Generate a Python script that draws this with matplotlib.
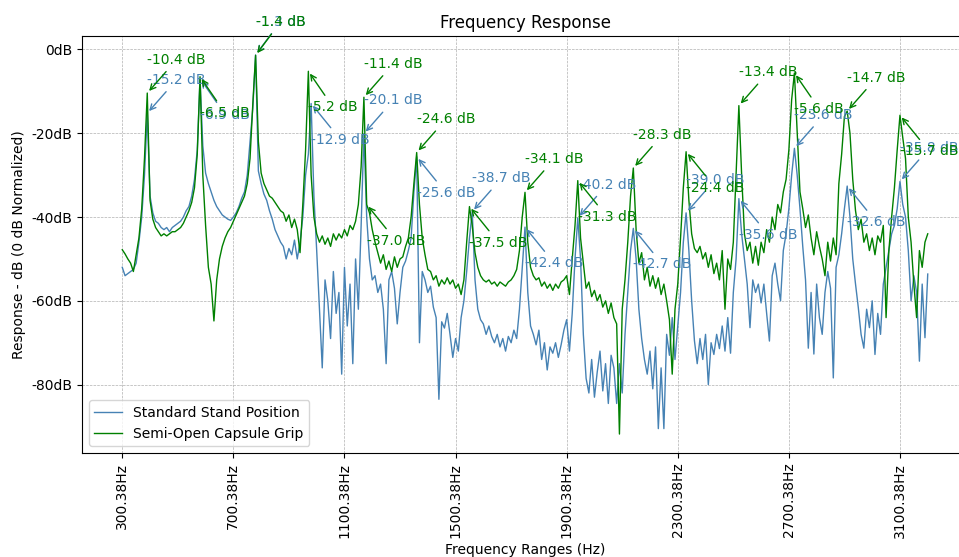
import matplotlib
matplotlib.use('Agg')
import matplotlib.pyplot as plt
from matplotlib.ticker import FuncFormatter
import numpy as np

# frequency grid (Hz) - first bin and bin width
start_hz = 300.38
step_hz = 10.0

# response in dB, one value per bin
standard = [
    -52, -54, -53.5, -53, -52.5, -51, -46, -40, -30, -15.2,
    -35, -39, -41, -41.5, -42.5, -43, -42.5, -43.5, -42.5, -42,
    -41.5, -41, -40, -38.5, -37.5, -35, -31, -24, -6.9,
    -23, -29.5, -32, -34, -36, -37.5, -38.5, -39.5, -40, -40.5, -40.8,
    -40, -39, -37.5, -35.5, -34, -30, -22, -14, -1.3,
    -29, -32, -34.5, -36, -38.5, -40.5, -43, -44.5, -46, -47, -50,
    -47.5, -49, -45.5, -50, -46, -40, -30, -25, -12.9,
    -35, -48, -62, -76, -55, -60, -69, -53, -63, -58, -77.5, -52, -66, -56, -75, -50, -62, -42, -20.1,
    -40, -50, -55, -54, -58, -56, -62, -75, -55, -53, -57, -65.5, -58, -52, -50.5, -48, -45, -34, -25.6,
    -70, -53, -55, -58, -56.5, -61.5, -64, -83.5, -65, -66.5, -63, -68, -73.5, -69, -72, -64, -60, -53, -45, -38.7,
    -55, -62, -64.5, -65.5, -68, -66, -68.5, -70, -68, -71, -69, -72, -68.5, -70, -67, -69, -62, -52, -42.4,
    -58, -66, -68, -70.5, -67, -74, -70, -76.5, -71, -72.5, -70, -73.5, -70.5, -67, -64.5, -72, -63, -50, -40.2,
    -50, -68, -78.5, -82, -74, -83, -77, -72, -81.5, -75, -84.5, -73, -76, -84.5, -75, -82, -68, -58, -48, -42.7,
    -50, -62, -69, -74, -77.5, -72, -81, -71, -90.5, -76, -90.5, -68, -73, -64, -74, -66, -58, -46, -39.0,
    -48, -60, -69.5, -75, -69, -74, -68, -80, -70, -72.8, -68, -71.4, -66, -72, -64, -72.5, -58, -50, -35.6,
    -44, -50, -56, -66.4, -55, -58, -56, -60.5, -56, -63, -69.6, -54, -51, -56, -60, -48, -44, -38, -30, -23.6,
    -30, -38, -47, -55, -71.3, -58, -72.7, -56, -64, -68, -58, -53, -57, -78.4, -52, -49, -44, -38, -32.6,
    -40, -50, -56, -61.6, -68, -71.3, -62, -66.4, -60, -72.8, -63, -68, -56, -52, -48, -44, -42, -38, -31.5, -37,
    -40, -48, -60, -54, -58, -74.4, -56, -68.8, -53.6,
]

semi_open = [
    -47.8, -48.8, -50, -51, -53, -49, -45, -38, -26, -10.4,
    -36, -40.5, -42.5, -43.5, -44.5, -44, -44.5, -44, -43.5, -43.5,
    -43, -42.5, -41.5, -40, -38.5, -36.5, -33, -25, -6.5,
    -30, -42, -52, -56, -64.8, -55, -50, -47, -45, -43.5, -42.5, -41, -39.5, -38, -36.5, -35, -32, -26, -13, -1.4,
    -22, -29.5, -32, -33.5, -35, -35.5, -36.5, -37.5, -38.5, -39, -41, -39.5, -42.5, -40.5, -43, -48.5, -37, -24, -5.2,
    -30, -40, -44, -46, -44.5, -46.5, -45, -47, -44, -45.5, -44, -45, -43, -44.5, -42, -43, -41, -37, -28, -11.4,
    -37.0, -39, -43, -46, -48.5, -51, -49, -52.5, -50.5, -53, -49.5, -52, -50, -49.5, -47, -45, -40, -32, -24.6,
    -37, -45, -49, -52.5, -53, -55, -54, -56.5, -55, -56, -54.5, -56, -55, -57, -56, -58.5, -55, -46, -37.5,
    -42, -48.5, -52, -54, -55, -55.5, -55, -56, -55.5, -56.5, -55.5, -56, -56.5, -55.5, -55, -54, -52.5, -48, -40, -34.1,
    -46, -52, -54, -55, -54.5, -56.5, -55.5, -57, -56, -57.5, -56, -57, -55.5, -55, -54, -58.5, -50, -42, -31.3,
    -45, -51, -57, -55.5, -59, -57.5, -60, -58.5, -61.5, -60, -63, -60.5, -64, -65.5, -91.8, -62, -55, -46, -35, -28.3,
    -43, -51, -48.5, -55, -52, -56.5, -54, -57, -54.5, -58.5, -56, -60, -64.5, -77.5, -62, -56, -45, -33, -24.4,
    -36, -44, -47.5, -48.5, -47, -50, -48.5, -52, -49, -53.5, -51, -55, -48, -62, -50, -52.5, -46, -30, -13.4,
    -30, -44, -48, -46, -51, -47, -51.5, -46, -48.5, -43, -46, -40, -43, -37, -39, -34, -31, -24, -12, -5.6,
    -20, -34, -38, -42.5, -39.5, -45, -49, -43.5, -47, -50, -54, -46, -50.5, -45, -49, -32, -25, -16, -14.7,
    -20, -31, -38.5, -43, -40.5, -46, -44, -48, -45, -49, -44.5, -46, -42, -64, -48, -40, -33, -24, -15.7, -21,
    -26, -40, -46, -56, -64, -48, -52, -46, -44,
]

# annotated bins and the numbers printed next to them
standard_peaks = [9, 28, 48, 68, 87, 106, 126, 145, 164, 184, 203, 222, 242, 261, 280]
standard_labels = [-15.2, -6.9, -1.3, -12.9, -20.1, -25.6, -38.7, -42.4, -40.2,
                   -42.7, -39.0, -35.6, -23.6, -32.6, -35.8]
semi_peaks = [9, 28, 48, 67, 87, 88, 106, 125, 145, 164, 184, 203, 222, 242, 261, 280]
semi_labels = [-10.4, -6.5, -1.4, -5.2, -11.4, -37.0, -24.6, -37.5, -34.1, -31.3,
               -28.3, -24.4, -13.4, -5.6, -14.7, -15.7]

tick_hz = [300.38, 700.38, 1100.38, 1500.38, 1900.38, 2300.38, 2700.38, 3100.38]
tick_db = [0, -20, -40, -60, -80]

freqs = start_hz + step_hz * np.arange(len(standard))

fig = plt.figure(figsize=(9.59, 5.57), dpi=100)
ax = fig.add_axes([0.0855, 0.1867, 0.9239, 0.7487])

ax.plot(freqs, standard, color='steelblue', lw=1, label='Standard Stand Position')
ax.plot(freqs, semi_open, color='green', lw=1, label='Semi-Open Capsule Grip')


def mark_peaks(peaks, labels, series, color):
    for i, (k, lab) in enumerate(zip(peaks, labels)):
        dy = 24 if i % 2 == 0 else -26
        ax.annotate(f'{lab:.1f} dB', xy=(freqs[k], series[k]), xytext=(0, dy),
                    textcoords='offset points', ha='left', va='center',
                    color=color, fontsize=10,
                    arrowprops=dict(arrowstyle='->', color=color, lw=1))


mark_peaks(standard_peaks, standard_labels, standard, 'steelblue')
mark_peaks(semi_peaks, semi_labels, semi_open, 'green')

ax.set_title('Frequency Response')
ax.set_xlabel('Frequency Ranges (Hz)')
ax.set_ylabel('Response - dB (0 dB Normalized)')
ax.set_xticks(tick_hz)
ax.set_xticklabels([f'{t:.2f}Hz' for t in tick_hz], rotation=90)
ax.set_yticks(tick_db)
ax.yaxis.set_major_formatter(FuncFormatter(lambda v, p: f'{v:.0f}dB'))
ax.grid(True, linestyle='--', linewidth=0.5)
ax.legend(loc='lower left')

fig.savefig('out.png', dpi=100)
